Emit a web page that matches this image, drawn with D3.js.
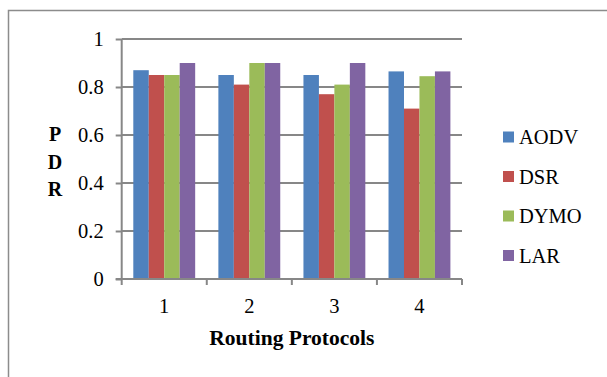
<!DOCTYPE html>
<html>
<head>
<meta charset="utf-8">
<script src="https://cdn.jsdelivr.net/npm/d3@7"></script>
<style>
  html, body { margin: 0; padding: 0; background: #fff; }
  svg { display: block; }
</style>
</head>
<body>
<script>
const categories = ["1", "2", "3", "4"];
const seriesNames = ["AODV", "DSR", "DYMO", "LAR"];
const aodv = [0.87, 0.85, 0.85, 0.865];
const dsr  = [0.85, 0.81, 0.77, 0.71];
const dymo = [0.85, 0.90, 0.81, 0.845];
const lar  = [0.90, 0.90, 0.90, 0.865];
const seriesValues = [aodv, dsr, dymo, lar];
const colors = ["#4F81BD", "#C0504D", "#9BBB59", "#8064A2"];
const yTicks = [0, 0.2, 0.4, 0.6, 0.8, 1];
const yTickLabels = ["0", "0.2", "0.4", "0.6", "0.8", "1"];
const xTitle = "Routing Protocols";
const yTitle = ["P", "D", "R"];

const W = 607, H = 377;
const font = "'Liberation Serif', 'Times New Roman', serif";
const gridColor = "#878787";

const svg = d3.select("body").append("svg").attr("width", W).attr("height", H);

// outer frame (only left & top visible)
svg.append("rect").attr("x", 8.5).attr("y", 10.5).attr("width", 700).attr("height", 500)
  .attr("fill", "none").attr("stroke", "#8c8c8c").attr("stroke-width", 1.5);

const plotL = 121.7, plotR = 462, plotT = 39, plotB = 279;

const x = d3.scaleBand().domain(categories).range([plotL, plotR]).padding(0);
const xs = d3.scaleBand().domain(seriesNames).range([0, x.bandwidth()])
  .paddingInner(0).paddingOuter(0.75);
const y = d3.scaleLinear().domain([0, 1]).range([plotB, plotT]);

// gridlines
svg.append("g").selectAll("line").data(yTicks.slice(1)).join("line")
  .attr("x1", plotL).attr("x2", plotR)
  .attr("y1", d => y(d)).attr("y2", d => y(d))
  .attr("stroke", gridColor).attr("stroke-width", 2);

// bars
const data = [];
categories.forEach((c, i) => seriesNames.forEach((s, j) =>
  data.push({ c, s, v: seriesValues[j][i], color: colors[j] })));
svg.append("g").selectAll("rect").data(data).join("rect")
  .attr("x", d => x(d.c) + xs(d.s))
  .attr("width", xs.bandwidth())
  .attr("y", d => y(d.v))
  .attr("height", d => y(0) - y(d.v))
  .attr("fill", d => d.color);

// y axis
const yAxis = d3.axisLeft(y).tickValues(yTicks).tickSize(6).tickPadding(12)
  .tickFormat((d, i) => yTickLabels[i]);
const gy = svg.append("g").attr("transform", `translate(${plotL},0)`).call(yAxis);
gy.select(".domain").attr("stroke", gridColor).attr("stroke-width", 2)
  .attr("d", `M0,${plotT}V${plotB}`);
gy.selectAll(".tick line").attr("stroke", gridColor).attr("stroke-width", 2);
gy.selectAll(".tick text").attr("font-family", font).attr("font-size", 20.5)
  .attr("fill", "#000").attr("dy", "0.34em");

// x axis
const xAxis = d3.axisBottom(x).tickSize(0).tickPadding(19);
const gx = svg.append("g").attr("transform", `translate(0,${plotB})`).call(xAxis);
gx.select(".domain").attr("stroke", gridColor).attr("stroke-width", 2)
  .attr("d", `M${plotL - 6},0H${plotR}`);
gx.selectAll(".tick text").attr("font-family", font).attr("font-size", 20.5).attr("fill", "#000");
const bounds = categories.map(c => x(c)).concat([x(categories[categories.length - 1]) + x.bandwidth()]);
gx.append("g").selectAll("line").data(bounds).join("line")
  .attr("x1", d => d).attr("x2", d => d).attr("y1", 0).attr("y2", 6)
  .attr("stroke", gridColor).attr("stroke-width", 2);

// x title
svg.append("text").attr("x", (plotL + plotR) / 2).attr("y", 345)
  .attr("text-anchor", "middle").attr("font-family", font).attr("font-size", 21.5)
  .attr("font-weight", "bold").attr("fill", "#000").text(xTitle);

// y title (stacked letters)
svg.append("g").selectAll("text").data(yTitle).join("text")
  .attr("x", 55).attr("y", (d, i) => 141 + i * 27.5)
  .attr("text-anchor", "middle").attr("font-family", font).attr("font-size", 20)
  .attr("font-weight", "bold").attr("fill", "#000").text(d => d);

// legend
const lg = svg.append("g").selectAll("g").data(seriesNames).join("g")
  .attr("transform", (d, i) => `translate(503,${137 + i * 39.5})`);
lg.append("rect").attr("x", 0).attr("y", -5.5).attr("width", 11).attr("height", 11)
  .attr("fill", (d, i) => colors[i]);
lg.append("text").attr("x", 16).attr("y", 7).attr("font-family", font)
  .attr("font-size", 20.5).attr("fill", "#000").text(d => d);
</script>
</body>
</html>
